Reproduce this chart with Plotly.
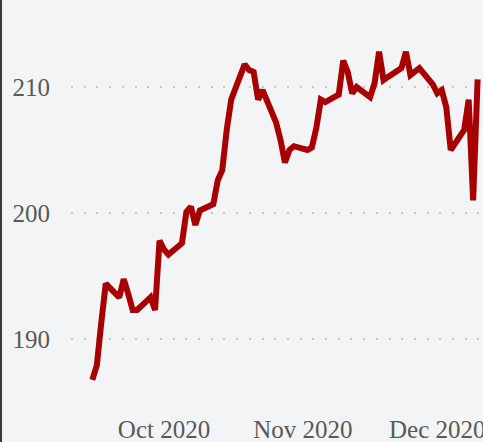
import datetime as dt
import plotly.graph_objects as go

# Daily closing values (trading days, Sep 15 - Dec 10, 2020)
dates = [
    "2020-09-15", "2020-09-16", "2020-09-17", "2020-09-18",
    "2020-09-21", "2020-09-22", "2020-09-23", "2020-09-24", "2020-09-25",
    "2020-09-28", "2020-09-29", "2020-09-30", "2020-10-01", "2020-10-02",
    "2020-10-05", "2020-10-06", "2020-10-07", "2020-10-08", "2020-10-09",
    "2020-10-12", "2020-10-13", "2020-10-14", "2020-10-15", "2020-10-16",
    "2020-10-19", "2020-10-20", "2020-10-21", "2020-10-22", "2020-10-23",
    "2020-10-26", "2020-10-27", "2020-10-28", "2020-10-29", "2020-10-30",
    "2020-11-02", "2020-11-03", "2020-11-04", "2020-11-05", "2020-11-06",
    "2020-11-09", "2020-11-10", "2020-11-11", "2020-11-12", "2020-11-13",
    "2020-11-16", "2020-11-17", "2020-11-18", "2020-11-19", "2020-11-20",
    "2020-11-23", "2020-11-24", "2020-11-25", "2020-11-27",
    "2020-11-30", "2020-12-01", "2020-12-02", "2020-12-03", "2020-12-04",
    "2020-12-07", "2020-12-08", "2020-12-09", "2020-12-10",
]
values = [
    186.75, 187.9, 191.3, 194.4,
    193.3, 194.75, 193.6, 192.3, 192.3,
    193.3, 192.3, 197.8, 197.1, 196.7,
    197.6, 200.1, 200.5, 199.05, 200.2,
    200.7, 202.6, 203.4, 206.6, 209.0,
    211.8, 211.35, 211.2, 209.0, 209.75,
    207.2, 205.8, 204.0, 205.0, 205.3,
    205.0, 205.2, 206.75, 209.0, 208.8,
    209.4, 212.1, 211.2, 209.5, 210.0,
    209.2, 210.3, 212.8, 210.55, 210.8,
    211.5, 212.8, 210.95, 211.5,
    210.2, 209.5, 209.75, 208.4, 205.0,
    206.6, 209.0, 201.0, 210.6,
]

x_ticks = ["2020-10-01", "2020-11-01", "2020-12-01"]
x_tick_labels = ["Oct 2020", "Nov 2020", "Dec 2020"]
y_ticks = [190, 200, 210]

BG = "#f3f4f6"
TEXT = "#595959"
LINE = "#a80000"

oct1 = dt.datetime(2020, 10, 1)
x_start = oct1 - dt.timedelta(days=20.76)
x_end = oct1 + dt.timedelta(days=71.2)

fig = go.Figure(
    go.Scatter(
        x=dates,
        y=values,
        mode="lines",
        line=dict(color=LINE, width=6),
        hoverinfo="skip",
    )
)

fig.update_layout(
    width=483,
    height=442,
    margin=dict(l=71, r=0, t=0, b=40),
    paper_bgcolor=BG,
    plot_bgcolor=BG,
    showlegend=False,
    font=dict(family="Liberation Serif, Times New Roman, serif", size=25, color=TEXT),
    xaxis=dict(
        range=[x_start.isoformat(), x_end.isoformat()],
        tickvals=x_ticks,
        ticktext=x_tick_labels,
        showgrid=False,
        zeroline=False,
        showline=False,
        ticks="outside",
        ticklen=5,
        tickcolor=BG,
        automargin=False,
        ticklabeloverflow="allow",
    ),
    yaxis=dict(
        range=[185.0, 216.905],
        tickvals=y_ticks,
        showgrid=True,
        gridcolor="#c6c6c6",
        gridwidth=2,
        griddash="2px,10.7px",
        zeroline=False,
        showline=False,
        automargin=False,
        ticklabelstandoff=20,
    ),
    shapes=[
        dict(
            type="line",
            xref="paper",
            yref="paper",
            x0=-70 / 412,
            x1=-70 / 412,
            y0=-40 / 402,
            y1=1,
            line=dict(color="#3a3a3a", width=2),
        )
    ],
)

fig.write_html("out.html")
